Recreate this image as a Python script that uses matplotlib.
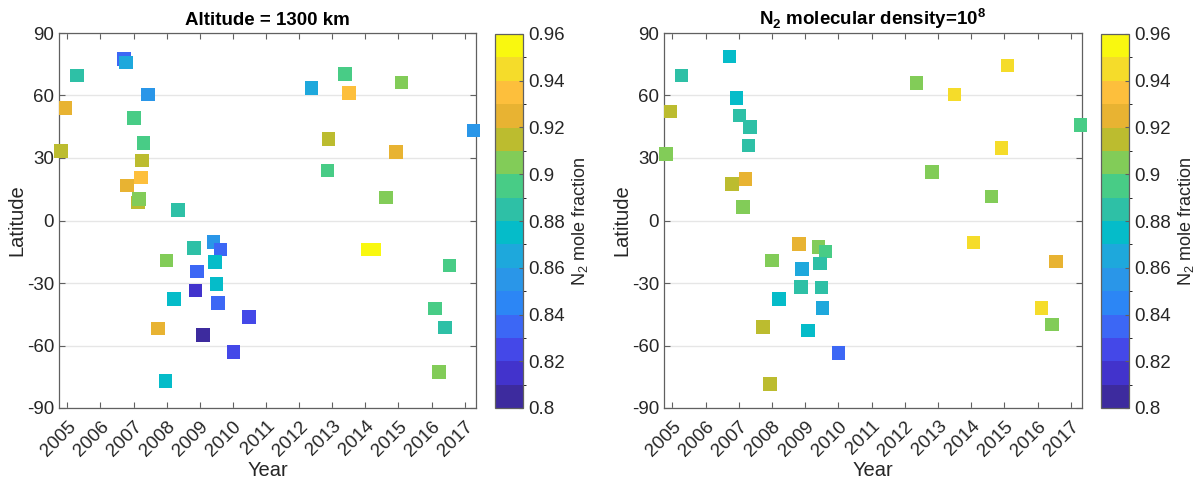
import numpy as np
import matplotlib
matplotlib.use('Agg')
import matplotlib.pyplot as plt
from matplotlib.colors import ListedColormap, BoundaryNorm

plt.rcParams['font.family'] = ['Liberation Sans', 'DejaVu Sans']
plt.rcParams['mathtext.fontset'] = 'custom'
plt.rcParams['mathtext.rm'] = 'Liberation Sans'
plt.rcParams['mathtext.bf'] = 'Liberation Sans:bold'
plt.rcParams['axes.unicode_minus'] = False

# ---- data ----
# left panel: altitude = 1300 km
left_year = [2005.29, 2006.71, 2006.77, 2007.44, 2004.94, 2007.02, 2007.30, 2004.81,
             2007.26, 2007.22, 2006.81, 2007.14, 2007.17, 2008.35, 2012.37, 2013.38,
             2013.50, 2015.09, 2012.89, 2012.85, 2014.92, 2014.62, 2017.27, 2008.82,
             2009.42, 2009.63, 2008.00, 2009.46, 2008.91, 2009.51, 2008.22, 2008.87,
             2009.55, 2010.49, 2007.74, 2009.10, 2010.02, 2007.96, 2014.06, 2014.26,
             2016.54, 2016.11, 2016.41, 2016.23]
left_lat = [69.7, 77.5, 75.9, 60.5, 54.0, 49.3, 37.3, 33.3,
            28.8, 20.7, 16.8, 8.6, 10.4, 5.1, 63.6, 70.3,
            61.2, 66.3, 39.2, 24.0, 33.0, 11.0, 43.2, -13.2,
            -10.4, -14.0, -19.1, -19.9, -24.4, -30.5, -37.7, -33.7,
            -39.6, -46.4, -51.8, -54.9, -63.0, -77.0, -14.0, -14.0,
            -21.7, -42.2, -51.3, -72.8]
left_n2 = [0.885, 0.835, 0.865, 0.855, 0.925, 0.895, 0.895, 0.915,
           0.915, 0.935, 0.925, 0.915, 0.905, 0.885, 0.865, 0.895,
           0.935, 0.905, 0.915, 0.895, 0.925, 0.905, 0.855, 0.885,
           0.855, 0.835, 0.905, 0.875, 0.835, 0.875, 0.875, 0.815,
           0.835, 0.825, 0.925, 0.805, 0.825, 0.875, 0.955, 0.955,
           0.895, 0.895, 0.885, 0.905]

# right panel: N2 molecular density = 1e8
right_year = [2005.28, 2006.72, 2004.94, 2006.93, 2007.02, 2007.34, 2007.30, 2004.81,
              2006.80, 2007.21, 2007.13, 2012.36, 2013.50, 2015.09, 2014.92, 2012.83,
              2014.61, 2014.07, 2008.82, 2009.41, 2009.62, 2008.00, 2009.45, 2008.90,
              2008.87, 2009.50, 2008.22, 2009.53, 2007.73, 2009.08, 2010.01, 2007.95,
              2016.56, 2016.12, 2016.43, 2017.30]
right_lat = [69.7, 78.8, 52.4, 58.8, 50.3, 44.8, 35.9, 31.9,
             17.5, 19.9, 6.6, 66.1, 60.5, 74.3, 34.7, 23.2,
             11.5, -10.5, -11.4, -12.7, -14.8, -19.1, -20.7, -23.4,
             -31.9, -32.1, -37.7, -42.0, -51.2, -52.9, -63.6, -78.4,
             -19.6, -42.0, -50.0, 45.8]
right_n2 = [0.885, 0.875, 0.915, 0.875, 0.885, 0.885, 0.885, 0.905,
            0.915, 0.925, 0.905, 0.905, 0.945, 0.945, 0.945, 0.905,
            0.905, 0.945, 0.925, 0.905, 0.895, 0.905, 0.885, 0.865,
            0.885, 0.885, 0.875, 0.865, 0.915, 0.875, 0.835, 0.915,
            0.925, 0.945, 0.905, 0.895]

years = list(range(2005, 2018))
lat_ticks = [-90, -60, -30, 0, 30, 60, 90]
cbar_ticks = [0.8, 0.82, 0.84, 0.86, 0.88, 0.9, 0.92, 0.94, 0.96]

# parula(16)-like colours picked from the colour bar
parula16 = ['#3d2b9e', '#4233cc', '#4448e8', '#3c67f5', '#2c86f5', '#2a96e8',
            '#1ea8dc', '#05bcc9', '#2ec0a6', '#48cc86', '#82cc58', '#bcbc2f',
            '#e8b332', '#fdbf3c', '#f5dc2a', '#f9f80f']
cmap = ListedColormap(parula16)
norm = BoundaryNorm(np.linspace(0.8, 0.96, 17), cmap.N)

W, H = 1200, 483
fig = plt.figure(figsize=(W / 100, H / 100), dpi=100)

def px(x0, y0, x1, y1):
    return [x0 / W, 1 - y1 / H, (x1 - x0) / W, (y1 - y0) / H]

axis_col = '#606060'
text_col = '#262626'

def make_panel(ax_box, cb_box, yr, lat, n2, title):
    ax = fig.add_axes(px(*ax_box))
    sc = ax.scatter(yr, lat, c=n2, cmap=cmap, norm=norm, marker='s', s=95,
                    edgecolors='none', zorder=3, clip_on=False)
    ax.set_xlim(2004.75, 2017.34)
    ax.set_ylim(-90, 90)
    ax.set_xticks(years)
    ax.set_xticklabels([str(y) for y in years], rotation=45, ha='right',
                       rotation_mode='anchor')
    ax.set_yticks(lat_ticks)
    ax.yaxis.grid(True, color='#e6e6e6', linewidth=1.0, zorder=0)
    ax.set_axisbelow(True)
    ax.tick_params(direction='in', length=4, width=0.8, colors=axis_col,
                   labelcolor=text_col, labelsize=13.5, top=True, right=True)
    ax.tick_params(axis='x', pad=7)
    for sp in ax.spines.values():
        sp.set_color(axis_col)
        sp.set_linewidth(0.9)
    ax.set_xlabel('Year', fontsize=14.5, color=text_col, labelpad=1)
    ax.set_ylabel('Latitude', fontsize=14.5, color=text_col, labelpad=0)
    ax.set_title(title, fontsize=13.5, fontweight='bold', color='black', pad=6)

    cax = fig.add_axes(px(*cb_box))
    cb = fig.colorbar(sc, cax=cax, ticks=cbar_ticks)
    cb.ax.set_yticklabels(['%g' % t for t in cbar_ticks])
    cb.ax.tick_params(direction='in', length=3, width=0.8, colors=axis_col,
                      labelcolor=text_col, labelsize=13.5)
    cb.outline.set_edgecolor(axis_col)
    cb.outline.set_linewidth(0.9)
    cb.set_label('N$_2$ mole fraction', fontsize=13, color=text_col, labelpad=4)
    return ax

make_panel((59, 33, 476, 408), (495, 34, 523, 408),
           left_year, left_lat, left_n2, 'Altitude = 1300 km')
make_panel((664, 33, 1082, 408), (1101, 34, 1129, 408),
           right_year, right_lat, right_n2,
           r'N$_\mathbf{2}$ molecular density=10$^\mathbf{8}$')

fig.savefig('out.png', dpi=100)
